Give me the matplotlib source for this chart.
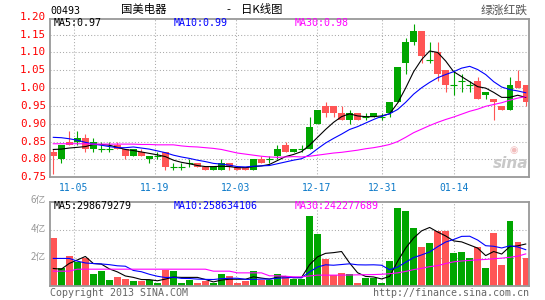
import matplotlib
matplotlib.use("Agg")
import matplotlib.pyplot as plt
from matplotlib.patches import Rectangle

# ---------------- data ----------------
open_ = [0.82,0.80,0.85,0.85,0.86,0.83,0.83,0.83,0.84,0.83,
         0.81,0.82,0.80,0.81,0.82,0.78,0.78,0.79,0.79,0.78,
         0.77,0.77,0.79,0.78,0.78,0.77,0.80,0.80,0.81,0.84,
         0.82,0.83,0.83,0.90,0.95,0.95,0.93,0.91,0.93,0.92,
         0.92,0.92,0.93,0.96,1.07,1.13,1.16,1.08,1.10,1.05,
         1.01,1.02,1.01,1.02,0.98,0.97,0.95,0.94,1.02,1.01]
high = [0.83,0.84,0.88,0.88,0.87,0.86,0.85,0.85,0.85,0.83,
        0.83,0.83,0.81,0.82,0.82,0.79,0.79,0.80,0.79,0.78,
        0.78,0.80,0.79,0.78,0.78,0.80,0.81,0.81,0.84,0.85,
        0.83,0.84,0.92,0.94,0.96,0.95,0.95,0.94,0.93,0.93,
        0.93,0.93,0.96,1.06,1.14,1.18,1.16,1.13,1.13,1.05,
        1.05,1.04,1.02,1.03,0.99,0.97,0.95,1.03,1.05,1.01]
low = [0.76,0.79,0.84,0.84,0.82,0.82,0.82,0.82,0.83,0.80,
       0.81,0.81,0.79,0.80,0.77,0.77,0.77,0.78,0.78,0.77,
       0.77,0.77,0.77,0.77,0.77,0.77,0.79,0.79,0.80,0.82,
       0.82,0.82,0.83,0.90,0.92,0.92,0.91,0.90,0.91,0.91,
       0.92,0.91,0.92,0.96,1.04,1.12,1.07,1.07,1.02,0.99,
       0.98,0.99,0.99,0.97,0.97,0.91,0.94,0.94,1.00,0.95]
close = [0.81,0.84,0.84,0.86,0.83,0.85,0.83,0.83,0.83,0.81,
         0.83,0.81,0.81,0.81,0.78,0.78,0.78,0.79,0.78,0.77,
         0.78,0.79,0.78,0.77,0.77,0.80,0.79,0.80,0.83,0.82,
         0.83,0.83,0.89,0.94,0.93,0.93,0.91,0.93,0.91,0.92,
         0.93,0.92,0.96,1.06,1.13,1.16,1.09,1.08,1.04,1.01,
         1.01,1.02,1.01,0.97,0.99,0.96,0.94,1.01,1.00,0.96]

ma5 = [0.828,0.829,0.832,0.834,0.836,0.842,0.842,0.840,0.834,0.828,
       0.825,0.821,0.817,0.813,0.808,0.798,0.792,0.788,0.783,0.780,
       0.780,0.781,0.780,0.777,0.777,0.780,0.782,0.786,0.797,0.808,
       0.814,0.822,0.840,0.862,0.884,0.904,0.920,0.928,0.922,0.920,
       0.920,0.922,0.928,0.958,1.000,1.046,1.080,1.104,1.100,1.076,
       1.046,1.032,1.018,1.004,1.000,0.988,0.974,0.974,0.980,0.974]
ma10 = [0.862,0.861,0.858,0.854,0.848,0.843,0.840,0.836,0.833,0.833,
        0.835,0.832,0.829,0.824,0.819,0.812,0.807,0.803,0.798,0.794,
        0.789,0.787,0.784,0.780,0.779,0.781,0.782,0.783,0.788,0.793,
        0.798,0.802,0.813,0.830,0.846,0.859,0.871,0.884,0.892,0.902,
        0.912,0.921,0.928,0.940,0.960,0.983,1.001,1.016,1.029,1.038,
        1.046,1.056,1.061,1.052,1.038,1.018,1.003,0.996,0.992,0.987]
ma30 = [0.844,0.844,0.844,0.844,0.844,0.843,0.843,0.843,0.843,0.843,
        0.843,0.842,0.842,0.841,0.841,0.841,0.838,0.836,0.835,0.833,
        0.831,0.828,0.823,0.818,0.815,0.812,0.809,0.807,0.806,0.807,
        0.808,0.807,0.809,0.812,0.815,0.818,0.820,0.823,0.826,0.830,
        0.833,0.837,0.842,0.850,0.862,0.875,0.885,0.895,0.904,0.912,
        0.919,0.927,0.935,0.941,0.949,0.954,0.959,0.966,0.972,0.976]

# volume in millions of shares
volume = [340,126,217,174,197,90,109,47,67,54,
          36,36,43,26,112,109,26,43,26,36,
          24,90,74,26,36,109,43,43,90,67,
          55,55,495,369,190,79,95,90,26,59,
          59,26,181,554,531,411,281,304,393,393,
          233,245,197,281,131,376,154,459,311,197]
vol_ma5 = [126,121,162,186,211,161,157,123,102,73,
           63,48,47,39,51,65,63,63,63,48,
           31,44,50,50,50,67,58,51,64,70,
           60,62,152,208,233,238,246,165,96,70,
           66,52,70,176,270,341,392,416,384,356,
           321,314,292,270,217,246,228,280,286,299]
vol_ma10 = [197,197,197,178,165,161,158,153,145,142,
            112,103,85,71,62,64,56,55,51,49,
            48,54,57,57,49,49,51,51,57,60,
            63,60,102,136,152,149,154,159,152,151,
            152,149,117,136,170,203,222,243,280,313,
            331,353,354,327,287,283,271,286,278,259]
vol_ma30 = [107,107,107,121,121,121,121,121,121,121,
            121,121,121,121,121,121,121,121,121,121,
            107,107,107,95,95,95,95,74,74,71,
            67,67,73,79,79,79,79,80,81,82,
            83,85,89,95,105,118,127,139,146,161,
            173,179,183,187,190,195,199,205,213,229]

date_labels = ["11-05", "11-19", "12-03", "12-17", "12-31", "01-14"]
date_pos = [2.59, 12.70, 22.82, 32.93, 41.09, 50.05]
price_ticks = [0.75, 0.80, 0.85, 0.90, 0.95, 1.00, 1.05, 1.10, 1.15, 1.20]
vol_ticks = [200, 400, 600]
vol_tick_labels = ["2亿", "4亿", "6亿"]

title_code = "00493"
title_name = "国美电器"
title_kind = "日K线图"
legend_note = "绿涨红跌"
price_ma_text = ["MA5:0.97", "MA10:0.99", "MA30:0.98"]
vol_ma_text = ["MA5:298679279", "MA10:258634106", "MA30:242277689"]
copyright_text = "Copyright 2013 SINA.COM"
url_text = "http://finance.sina.com.cn"

# ---------------- style ----------------
GREEN = "#00A600"
RED = "#FF5555"
GRID = "#AAAAAA"
BORDER = "#999999"
MONO = "DejaVu Sans Mono"
CJK = ["Noto Sans CJK SC", "DejaVu Sans"]
MA_COLORS = ["black", "#0000FF", "#FF00FF"]

W, H = 545, 300
fig = plt.figure(figsize=(W / 100, H / 100), dpi=100)
fig.patch.set_facecolor("white")


def rect(l, t, r, b):
    return [l / W, 1 - b / H, (r - l) / W, (b - t) / H]


def fp(x, y):
    return x / W, 1 - y / H


axp = fig.add_axes(rect(50, 18.7, 529, 177.3))
axv = fig.add_axes(rect(50, 202, 529, 286.3))

n = len(close)
XL = (-0.412, n - 0.59)
for ax in (axp, axv):
    ax.set_xlim(*XL)
    ax.set_xticks([])
    ax.set_yticks([])
    for s in ax.spines.values():
        s.set_color(BORDER)
        s.set_linewidth(1.3)
    for xp in date_pos:
        ax.axvline(xp, color=GRID, lw=0.75, ls=(0, (1, 2)), zorder=0)

axp.set_ylim(0.75, 1.1945)
axv.set_ylim(0, 596)

for p in price_ticks[1:-1]:
    axp.axhline(p, color=GRID, lw=0.75, ls=(0, (1, 2)), zorder=0)
for v in vol_ticks[:-1]:
    axv.axhline(v, color=GRID, lw=0.75, ls=(0, (1, 2)), zorder=0)

# candles and volume bars
for i in range(n):
    o, h, l, c = open_[i], high[i], low[i], close[i]
    col = GREEN if c >= o else RED
    axp.vlines(i, l, h, color=col, lw=0.8, zorder=2)
    if abs(c - o) < 1e-9:
        axp.hlines(c, i - 0.4, i + 0.4, color=col, lw=0.8, zorder=2)
    else:
        axp.add_patch(Rectangle((i - 0.4, min(o, c)), 0.8, abs(c - o),
                                facecolor=col, edgecolor="none", zorder=2))
    axv.add_patch(Rectangle((i - 0.4, 0), 0.8, volume[i],
                            facecolor=col, edgecolor="none", zorder=2))

xs = list(range(n))
for arr, col in zip([ma5, ma10, ma30], MA_COLORS):
    axp.plot(xs, arr, color=col, lw=0.8, zorder=3)
for arr, col in zip([vol_ma5, vol_ma10, vol_ma30], MA_COLORS):
    axv.plot(xs, arr, color=col, lw=0.8, zorder=3)

# price tick labels (red, left)
for p in price_ticks:
    axp.text(-0.008, p, f"{p:.2f}", transform=axp.get_yaxis_transform(),
             ha="right", va="center", color="red", fontsize=7.8,
             family=MONO, clip_on=False)

# volume tick labels
for v, lab in zip(vol_ticks, vol_tick_labels):
    y = 286.3 - v / 596 * 84.3
    fig.text(*fp(46, y - 1), lab, ha="right", va="center", color="#999999",
             fontsize=7, family=CJK)

# date labels
for xp, lab in zip(date_pos, date_labels):
    axp.text(xp, -0.065, lab, transform=axp.get_xaxis_transform(),
             ha="center", va="center", color="#0A78C8", fontsize=7,
             family=MONO, clip_on=False)

# title row
fig.text(*fp(50, 11), title_code, ha="left", va="center", fontsize=7.2,
         family=MONO, color="black")
fig.text(*fp(121, 10), title_name, ha="left", va="center", fontsize=8.2,
         family=CJK, color="black")
fig.text(*fp(226, 10), "-", ha="left", va="center", fontsize=8.2,
         family=CJK, color="black")
fig.text(*fp(241, 10), title_kind, ha="left", va="center", fontsize=8.2,
         family=CJK, color="black")
fig.text(*fp(528, 10), legend_note, ha="right", va="center", fontsize=8.5,
         family=CJK, color="#555555")

# MA legend texts
for txt, col, x in zip(price_ma_text, MA_COLORS, [54, 174, 295]):
    fig.text(*fp(x, 23.5), txt, ha="left", va="center", fontsize=7.2,
             family=MONO, color=col)
for txt, col, x in zip(vol_ma_text, MA_COLORS, [54, 174, 295]):
    fig.text(*fp(x, 206), txt, ha="left", va="center", fontsize=7.2,
             family=MONO, color=col)

# footer
fig.text(*fp(50, 292.5), copyright_text, ha="left", va="center",
         fontsize=7.2, family=MONO, color="#666666")
fig.text(*fp(529, 292.5), url_text, ha="right", va="center",
         fontsize=7.2, family=MONO, color="#666666")

# watermark
fig.text(*fp(511, 164), "sina", ha="center", va="center", fontsize=11,
         style="italic", weight="bold", color="#C8C8C8", family="DejaVu Sans")
fig.text(*fp(514, 150), "◉", ha="center", va="center", fontsize=7,
         color="#F2BDBD", family="DejaVu Sans")

fig.savefig("out.png", dpi=100, facecolor="white")
